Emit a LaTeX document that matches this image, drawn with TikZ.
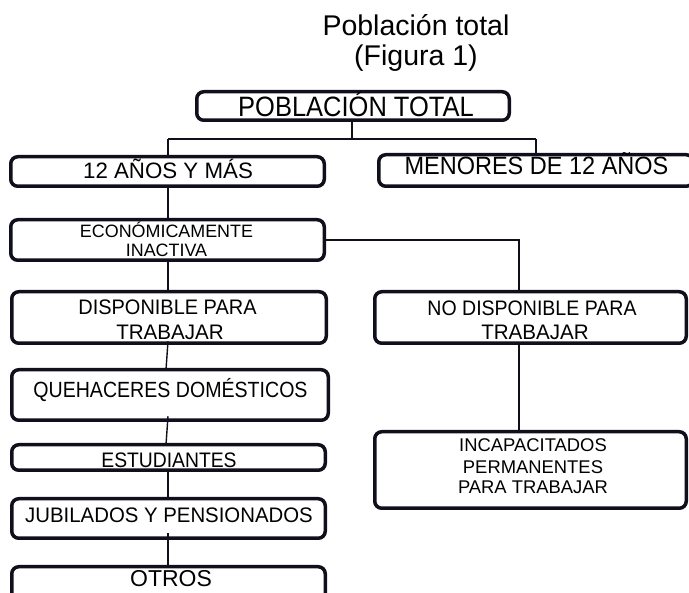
\documentclass[tikz,border=0pt]{standalone}
\usepackage{fontspec}
\setmainfont{Liberation Sans}
\usetikzlibrary{calc}
\definecolor{ink}{HTML}{10101C}
\begin{document}
\begin{tikzpicture}[x=1pt,y=-1pt,
  box/.style={draw=ink,line width=3.5pt,rounded corners=7pt,inner sep=0pt,outer sep=0pt},
  conn/.style={draw=ink,line width=1.4pt},
  lbl/.style={text=black,inner sep=0pt,anchor=base},
  fs/.style 2 args={font=\fontsize{#1}{#1}\selectfont\addfontfeatures{FakeStretch=#2}}]
\useasboundingbox (0,0) rectangle (689,593);
\clip (0,0) rectangle (689,593);
% title
\node[lbl,fs={28.5}{1}] (t1) at (416,36) {Población total};
\node[lbl,fs={28.5}{1}] (t2) at (416,66) {(Figura 1)};
% boxes (outer extent minus line width)
\node[box,minimum width=312.5pt,minimum height=28.5pt] (pob) at (353,106) {};
\node[box,minimum width=313.5pt,minimum height=29.5pt] (doce) at (167.5,171.5) {};
\node[box,minimum width=314.5pt,minimum height=31.5pt] (men) at (536,170.5) {};
\node[box,minimum width=313.5pt,minimum height=40.5pt] (econ) at (167.5,240) {};
\node[box,minimum width=314.5pt,minimum height=51.5pt] (disp) at (169,317.5) {};
\node[box,minimum width=311.5pt,minimum height=51.5pt] (nodisp) at (530.5,317.5) {};
\node[box,minimum width=316.5pt,minimum height=50.5pt] (queh) at (170,395) {};
\node[box,minimum width=313.5pt,minimum height=25.5pt] (estu) at (168.5,457.5) {};
\node[box,minimum width=313.5pt,minimum height=39.5pt] (jubi) at (168.5,518.5) {};
\node[box,minimum width=313.5pt,minimum height=41.5pt] (otros) at (168.5,587.5) {};
\node[box,minimum width=311.5pt,minimum height=76.5pt] (incap) at (530.5,470) {};
% labels
\node[lbl,fs={28}{0.91}] (lpob) at (356,117) {POBLACIÓN TOTAL};
\node[lbl,fs={22.3}{1}] (ldoce) at (168,178.9) {12 AÑOS Y MÁS};
\node[lbl,fs={25}{0.94}] (lmen) at (536.5,175) {MENORES DE 12 AÑOS};
\node[lbl,fs={17.9}{1}] (lecon1) at (166.5,237.4) {ECONÓMICAMENTE};
\node[lbl,fs={17.9}{1}] (lecon2) at (166.5,256.4) {INACTIVA};
\node[lbl,fs={21}{0.95}] (ldisp1) at (167.5,314.5) {DISPONIBLE PARA};
\node[lbl,fs={21}{0.98}] (ldisp2) at (170,339.5) {TRABAJAR};
\node[lbl,fs={21}{0.93}] (lnod1) at (532,315.5) {NO DISPONIBLE PARA};
\node[lbl,fs={21}{0.98}] (lnod2) at (535,339.5) {TRABAJAR};
\node[lbl,fs={22}{0.89}] (lqueh) at (170.5,397.9) {QUEHACERES DOMÉSTICOS};
\node[lbl,fs={21}{0.92}] (lestu) at (169,467.5) {ESTUDIANTES};
\node[lbl,fs={21}{0.97}] (ljubi) at (169,522.5) {JUBILADOS Y PENSIONADOS};
\node[lbl,fs={23}{1}] (lotros) at (171,586.2) {OTROS};
\node[lbl,fs={18.4}{1}] (linc1) at (533,451.6) {INCAPACITADOS};
\node[lbl,fs={18.4}{1}] (linc2) at (533,473.6) {PERMANENTES};
\node[lbl,fs={18.4}{1}] (linc3) at (533,493.6) {PARA TRABAJAR};
% connector helpers
\coordinate (kx) at (519,0);
\coordinate (lx) at (168,0);
% connectors
\draw[conn] (352,122) coordinate (pobs) -- ++(0,17) coordinate (hub);
\draw[conn] (hub -| lx) -- (hub -| men.north);
\draw[conn] (hub -| lx) -- (lx |- doce.north);
\draw[conn] (hub -| men.north) -- (men.north);
\draw[conn] (lx |- doce.south) -- (lx |- econ.north);
\draw[conn] (econ.east) -- (econ.east -| kx) -- (kx |- nodisp.north);
\draw[conn] (lx |- econ.south) -- (lx |- disp.north);
\draw[conn] ($(lx |- disp.south)+(0,-2)$) -- ($(lx |- queh.north)+(-2,0)$);
\draw[conn] ($(lx |- queh.south)+(0,-4)$) -- ($(lx |- estu.north)+(-2,0)$);
\draw[conn] (lx |- estu.south) -- (lx |- jubi.north);
\draw[conn] ($(lx |- jubi.south)+(0,-5)$) -- (lx |- otros.north);
\draw[conn] (kx |- nodisp.south) -- (kx |- incap.north);
\end{tikzpicture}
\end{document}
